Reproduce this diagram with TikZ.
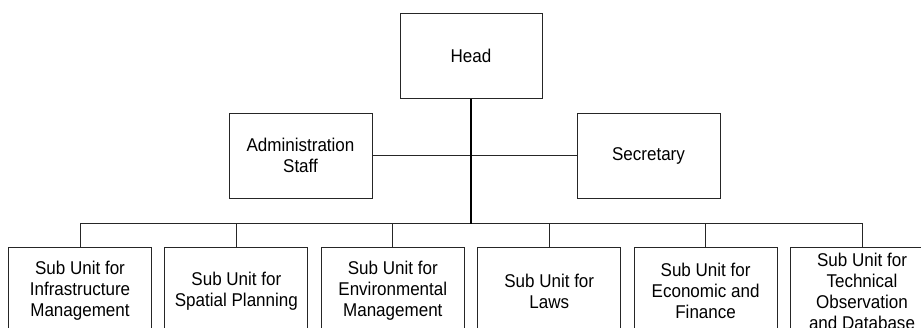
\documentclass[tikz,border=0pt]{standalone}
\usepackage{fontspec}
\setmainfont{Liberation Sans}[FakeStretch=0.92]
\begin{document}
\begin{tikzpicture}[x=1pt,y=-1pt,
  box/.style={draw=black!85,line width=1pt,fill=white,align=center,
    minimum width=143pt,inner sep=0pt,
    font=\fontsize{18.5}{21}\selectfont},
  topbox/.style={box,minimum height=85pt},
  unitbox/.style={box,minimum height=88pt},
  link/.style={draw=black!85,line width=1pt},
  trunk/.style={draw=black,line width=2pt}]
\useasboundingbox (0,0) rectangle (921,327);
\clip (0,0) rectangle (921,327);
\fill[white] (0,0) rectangle (921,327);

% top level and staff
\node[topbox,minimum width=142pt] (head) at (471,55.5) {Head};
\node[topbox] (admin) at (300.5,155.5) {Administration\\Staff};
\node[topbox] (secr) at (648.5,155.5) {Secretary};

% sub units
\node[unitbox] (u1) at (80,291) {Sub Unit for\\Infrastructure\\Management};
\node[unitbox] (u2) at (236.4,291) {Sub Unit for\\Spatial Planning};
\node[unitbox] (u3) at (392.8,291) {Sub Unit for\\Environmental\\Management};
\node[unitbox] (u4) at (549.2,291) {Sub Unit for\\Laws};
\node[unitbox] (u5) at (705.6,291) {Sub Unit for\\Economic and\\Finance};
\node[unitbox] (u6) at (862,291) {Sub Unit for\\Technical\\Observation\\and Database};

\coordinate (bus) at (471,223);

% connectors
\draw[link] (admin.east) -- (secr.west);
\draw[link] (u1.north |- bus) -- (u6.north |- bus);
\foreach \u in {u1,u2,u3,u4,u5,u6}
  \draw[link] (\u.north) -- (\u.north |- bus);
\draw[trunk] (head.south) -- ([yshift=-0.5pt]bus);
\end{tikzpicture}
\end{document}
